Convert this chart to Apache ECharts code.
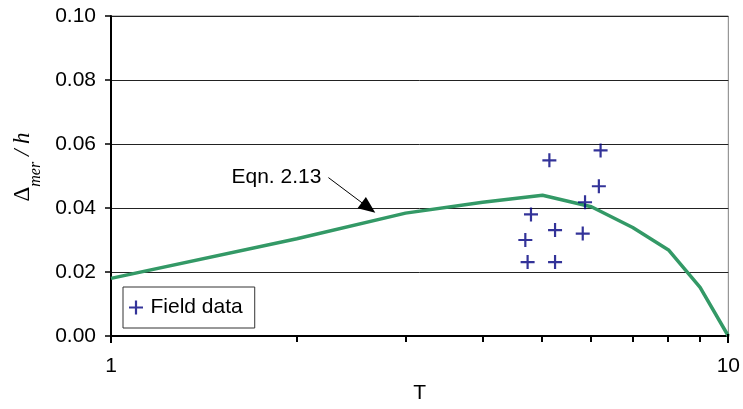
<!DOCTYPE html>
<html>
<head>
<meta charset="utf-8">
<script src="https://cdn.jsdelivr.net/npm/echarts@6/dist/echarts.min.js"></script>
<style>
html,body{margin:0;padding:0;background:#fff;}
#c{width:743px;height:409px;}
</style>
</head>
<body>
<div id="c"></div>
<script>
// ---- data ----
const curveT = [1, 2, 3, 4, 5, 6, 7, 8, 9, 10];
const curveY = [0.018, 0.0304, 0.0384, 0.0418, 0.044, 0.0404, 0.0339, 0.0269, 0.0152, 0.0];
const fieldT = [5.13, 6.21, 6.17, 5.86, 4.79, 4.69, 5.24, 5.81, 4.73, 5.24];
const fieldY = [0.0549, 0.0580, 0.0468, 0.0418, 0.0380, 0.0300, 0.0331, 0.0320, 0.0231, 0.0231];
const xMajorTicks = [1, 10];
const xMinorTicks = [2, 3, 4, 5, 6, 7, 8, 9];
const annotation = { text: 'Eqn. 2.13', from: [2.25, 0.0495], to: [2.68, 0.0385] };

const FONT = 'Liberation Sans, Arial, sans-serif';
const SERIF = 'Liberation Serif, Times New Roman, serif';
const FS = 21;
const PLUS = 'path://M0,5.9L14,5.9L14,8.1L0,8.1Z M5.9,0L8.1,0L8.1,14L5.9,14Z';

const chart = echarts.init(document.getElementById('c'), null, { renderer: 'canvas' });
const option = {
  animation: false,
  backgroundColor: '#fff',
  grid: { left: 111, right: 11, top: 16, bottom: 72, show: true, borderColor: '#808080', borderWidth: 1 },
  xAxis: {
    type: 'log', logBase: 10, min: 1, max: 10,
    name: 'T', nameLocation: 'middle', nameGap: 47,
    nameTextStyle: { fontFamily: FONT, fontSize: FS, color: '#000' },
    axisLine: { show: true, onZero: false, lineStyle: { color: '#000', width: 2 } },
    axisTick: { show: false },
    axisLabel: { fontFamily: FONT, fontSize: FS, color: '#000', margin: 20 },
    splitLine: { show: false },
    minorTick: { show: false }
  },
  yAxis: {
    type: 'value', min: 0, max: 0.1, interval: 0.02,
    name: '{a|Δ}{b|mer}{c| / h}', nameLocation: 'middle', nameRotate: 90, nameGap: 72,
    nameTextStyle: {
      padding: [0, 0, 0, 18],
      rich: {
        a: { fontFamily: SERIF, fontSize: 23, color: '#000', verticalAlign: 'middle', lineHeight: 28 },
        b: { fontFamily: SERIF, fontStyle: 'italic', fontSize: 16, color: '#000', verticalAlign: 'bottom', lineHeight: 16, padding: [0, 0, -7, 0] },
        c: { fontFamily: SERIF, fontStyle: 'italic', fontSize: 23, color: '#000', verticalAlign: 'middle', lineHeight: 28 }
      }
    },
    axisLine: { show: true, lineStyle: { color: '#000', width: 2 } },
    axisTick: { show: true, inside: false, length: 6, lineStyle: { color: '#000', width: 1.5 } },
    axisLabel: { fontFamily: FONT, fontSize: FS, color: '#000', margin: 15, formatter: v => v.toFixed(2) },
    splitLine: { show: true, lineStyle: { color: '#222', width: 1 } }
  },
  legend: {
    show: true, left: 123, top: 287, orient: 'vertical',
    data: [{ name: 'Field data', icon: PLUS }],
    itemWidth: 19, itemHeight: 14,
    padding: [10, 12, 10, 6],
    backgroundColor: '#fff', borderColor: '#333', borderWidth: 1,
    textStyle: { fontFamily: FONT, fontSize: FS, color: '#000' }
  },
  series: [
    {
      name: 'Eqn. 2.13', type: 'line',
      data: curveT.map((t, i) => [t, curveY[i]]),
      symbol: 'none', smooth: false,
      lineStyle: { color: '#339966', width: 3.5 },
      z: 3
    },
    {
      name: 'Field data', type: 'scatter',
      data: fieldT.map((t, i) => [t, fieldY[i]]),
      symbol: PLUS, symbolSize: 14, symbolKeepAspect: true,
      itemStyle: { color: '#000080' },
      z: 4
    }
  ]
};
chart.setOption(option);

function drawExtras() {
  const g = [];
  // x-axis ticks placed through the log axis scale
  xMajorTicks.forEach(v => {
    const p = chart.convertToPixel({ xAxisIndex: 0 }, v);
    g.push({ type: 'rect', shape: { x: Math.round(p) - 1, y: 334, width: 2, height: 9 }, style: { fill: '#000' }, z: 100 });
  });
  xMinorTicks.forEach(v => {
    const p = chart.convertToPixel({ xAxisIndex: 0 }, v);
    g.push({ type: 'rect', shape: { x: Math.round(p) - 1, y: 337, width: 2, height: 5 }, style: { fill: '#000' }, z: 100 });
  });
  // annotation arrow
  const p0 = chart.convertToPixel({ gridIndex: 0 }, annotation.from);
  const p1 = chart.convertToPixel({ gridIndex: 0 }, annotation.to);
  const dx = p1[0] - p0[0], dy = p1[1] - p0[1];
  const len = Math.sqrt(dx * dx + dy * dy);
  const ux = dx / len, uy = dy / len;
  const headL = 17, headW = 7;
  const bx = p1[0] - ux * headL, by = p1[1] - uy * headL;
  g.push({ type: 'line', shape: { x1: p0[0], y1: p0[1], x2: bx + ux * 2, y2: by + uy * 2 }, style: { stroke: '#000', lineWidth: 1 }, z: 10 });
  g.push({ type: 'polygon', shape: { points: [[p1[0], p1[1]], [bx - uy * headW, by + ux * headW], [bx + uy * headW, by - ux * headW]] }, style: { fill: '#000' }, z: 10 });
  g.push({ type: 'text', x: p0[0] - 7, y: p0[1], style: { text: annotation.text, font: FS + 'px ' + FONT, fill: '#000', textAlign: 'right', textVerticalAlign: 'middle' }, z: 10 });
  chart.setOption({ graphic: g });
}
drawExtras();
</script>
</body>
</html>
